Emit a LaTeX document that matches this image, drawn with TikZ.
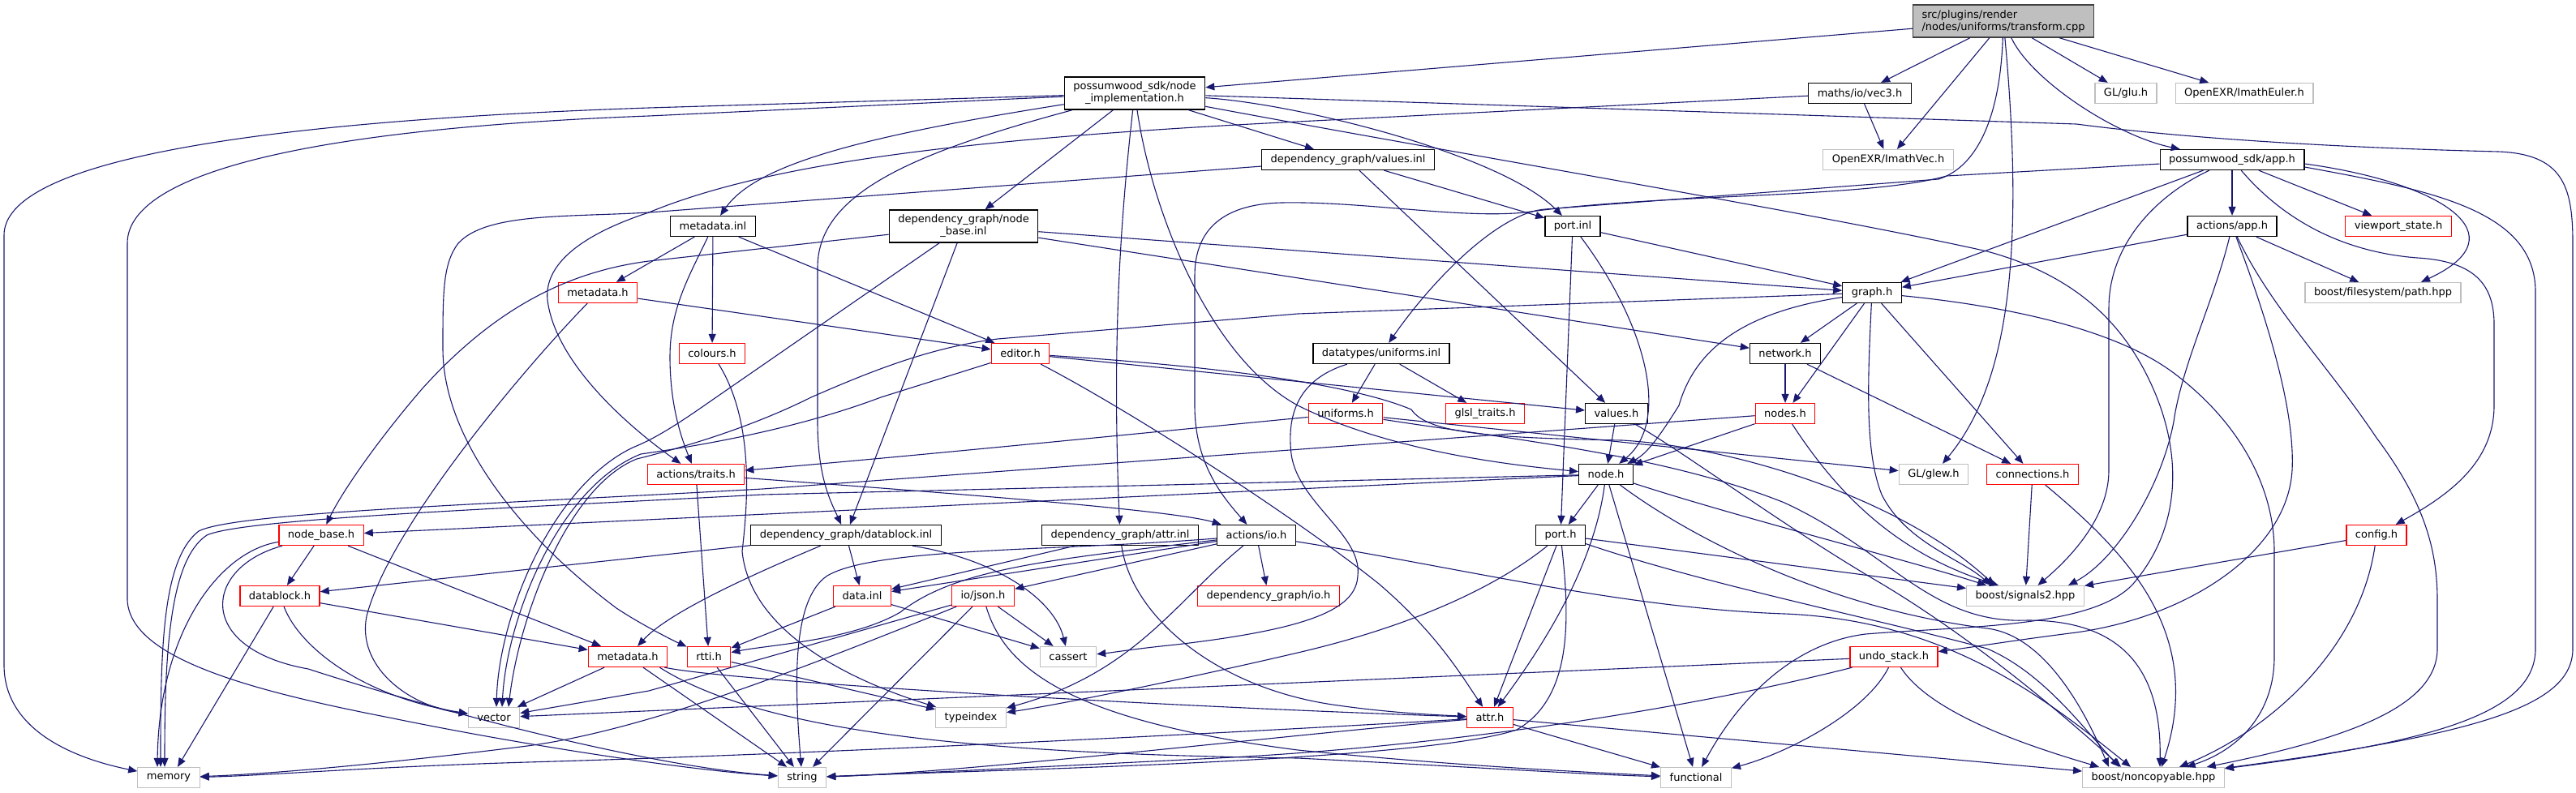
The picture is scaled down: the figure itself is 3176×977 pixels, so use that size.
\documentclass[tikz,border=0pt]{standalone}
\usepackage{fontspec}
\newfontfamily\hfont{DejaVu Sans}
\usetikzlibrary{arrows.meta}
\definecolor{edgeblue}{RGB}{25,25,112}
\definecolor{boxred}{RGB}{255,0,0}
\definecolor{extgray}{RGB}{191,191,191}
\definecolor{rootline}{RGB}{64,64,64}

\begin{document}
\begin{tikzpicture}[
  x=1pt,y=-1pt,
  incbox/.style={draw=black,line width=1.3pt,fill=white,inner xsep=11pt,inner ysep=3pt,
    minimum height=25pt,align=center,font=\hfont\fontsize{13}{15}\selectfont},
  redbox/.style={incbox,draw=boxred},
  extbox/.style={incbox,draw=extgray},
  rootbox/.style={incbox,draw=rootline,fill=extgray,align=left,minimum height=40pt},
  incl/.style={draw=edgeblue,line width=1.1pt,-{Triangle[length=11pt,width=9pt]}}
]
\fill[white] (0,0) rectangle (3176,977);
\useasboundingbox (0,0) rectangle (3176,977);

% files
\node[rootbox] (root) at (2470,26) {src/plugins/render\\/nodes/uniforms/transform.cpp};
\node[incbox,minimum height=40pt] (nimpl) at (1399,115) {possumwood\_sdk/node\\\_implementation.h};
\node[incbox] (vecth) at (2293,115) {maths/io/vec3.h};
\node[extbox] (glu) at (2621,115) {GL/glu.h};
\node[extbox] (euler) at (2767,115) {OpenEXR/ImathEuler.h};
\node[incbox] (valinl) at (1662,197) {dependency\_graph/values.inl};
\node[extbox] (imvec) at (2328,197) {OpenEXR/ImathVec.h};
\node[incbox] (sdkapp) at (2752,197) {possumwood\_sdk/app.h};
\node[incbox] (mdinl) at (879,279) {metadata.inl};
\node[incbox,minimum height=40pt] (nbinl) at (1188,279) {dependency\_graph/node\\\_base.inl};
\node[incbox] (portinl) at (1939,279) {port.inl};
\node[incbox] (actapp) at (2752,279) {actions/app.h};
\node[redbox] (vpstate) at (2957,279) {viewport\_state.h};
\node[redbox] (mdh) at (737,361) {metadata.h};
\node[incbox] (graphh) at (2308,361) {graph.h};
\node[extbox] (fspath) at (2938,361) {boost/filesystem/path.hpp};
\node[redbox] (colours) at (878,436) {colours.h};
\node[redbox] (editor) at (1258,436) {editor.h};
\node[incbox] (uniinl) at (1703,436) {datatypes/uniforms.inl};
\node[incbox] (network) at (2201,436) {network.h};
\node[redbox] (unih) at (1659,510) {uniforms.h};
\node[redbox] (glsl) at (1831,510) {glsl\_traits.h};
\node[incbox] (valh) at (1993,510) {values.h};
\node[redbox] (nodesh) at (2201,510) {nodes.h};
\node[redbox] (traits) at (858,585) {actions/traits.h};
\node[incbox] (nodeh) at (1980,585) {node.h};
\node[extbox] (glew) at (2384,585) {GL/glew.h};
\node[redbox] (conn) at (2506,585) {connections.h};
\node[redbox] (nbh) at (396,660) {node\_base.h};
\node[incbox] (dbinl) at (1043,660) {dependency\_graph/datablock.inl};
\node[incbox] (attrinl) at (1381,660) {dependency\_graph/attr.inl};
\node[incbox] (actio) at (1549,660) {actions/io.h};
\node[incbox] (porth) at (1924,660) {port.h};
\node[redbox] (config) at (2930,660) {config.h};
\node[redbox] (dbh) at (345,735) {datablock.h};
\node[redbox] (datainl) at (1063,735) {data.inl};
\node[redbox] (json) at (1212,735) {io/json.h};
\node[redbox] (dgio) at (1564,735) {dependency\_graph/io.h};
\node[extbox] (sig) at (2497,735) {boost/signals2.hpp};
\node[redbox] (mdh2) at (774,810) {metadata.h};
\node[redbox] (rtti) at (874,810) {rtti.h};
\node[extbox] (cassert) at (1317,810) {cassert};
\node[redbox] (undo) at (2335,810) {undo\_stack.h};
\node[extbox] (vector) at (609,885) {vector};
\node[extbox] (typeidx) at (1197,885) {typeindex};
\node[redbox] (attrh) at (1837,885) {attr.h};
\node[extbox] (memory) at (208,959) {memory};
\node[extbox] (string) at (989,959) {string};
\node[extbox] (functional) at (2091,959) {functional};
\node[extbox] (noncopy) at (2655,959) {boost/noncopyable.hpp};

% transform.cpp
\draw[incl] (root) -- (nimpl);
\draw[incl] (root) -- (vecth);
\draw[incl] (root) -- (imvec);
\draw[incl] (root) -- (glu);
\draw[incl] (root) -- (euler);
\draw[incl] (root) .. controls (2505,100) and (2610,168) .. (sdkapp);
\draw[incl] (root) .. controls (2495,300) and (2480,470) .. (glew);
\draw[incl] (root) .. controls (2466,140) and (2440,205) .. (2390,221) -- (1905,258) .. controls (1850,262) and (1770,340) .. (uniinl);

% node_implementation.h
\draw[incl] (nimpl) -- (800,133) .. controls (300,150) and (5,200) .. (5,290) -- (5,820) .. controls (5,900) and (90,935) .. (memory);
\draw[incl] (nimpl) -- (800,143) .. controls (350,160) and (157,220) .. (157,300) -- (157,740) .. controls (160,810) and (300,850) .. (480,885) .. controls (650,920) and (850,950) .. (string);
\draw[incl] (nimpl) .. controls (1050,170) and (930,205) .. (mdinl);
\draw[incl] (nimpl) .. controls (1120,190) and (1008,240) .. (1008,330) -- (1008,520) .. controls (1008,590) and (1025,620) .. (dbinl);
\draw[incl] (nimpl) -- (nbinl);
\draw[incl] (nimpl) .. controls (1378,300) and (1372,450) .. (attrinl);
\draw[incl] (nimpl) .. controls (1420,260) and (1490,440) .. (1600,500) .. controls (1720,560) and (1880,575) .. (nodeh);
\draw[incl] (nimpl) -- (valinl);
\draw[incl] (nimpl) .. controls (1600,128) and (1850,190) .. (portinl);
\draw[incl] (nimpl) -- (2560,153) .. controls (2750,178) and (3000,185) .. (3080,187) .. controls (3160,190) and (3172,230) .. (3172,300) -- (3172,800) .. controls (3172,870) and (3060,905) .. (noncopy);
\draw[incl] (nimpl) .. controls (1800,190) and (2250,265) .. (2450,310) .. controls (2560,340) and (2620,400) .. (2655,480) .. controls (2690,560) and (2690,650) .. (2630,720) .. controls (2580,775) and (2420,772) .. (2300,782) .. controls (2220,792) and (2150,850) .. (functional);

% vec3.h, values.inl
\draw[incl] (vecth) -- (imvec);
\draw[incl] (vecth) -- (1600,150) .. controls (1200,170) and (950,200) .. (800,262) .. controls (730,285) and (670,320) .. (675,370) .. controls (685,450) and (780,530) .. (traits);
\draw[incl] (valinl) -- (portinl);
\draw[incl] (valinl) -- (valh);
\draw[incl] (valinl) -- (800,262) .. controls (700,268) and (600,262) .. (565,300) .. controls (546,325) and (546,360) .. (546,430) .. controls (546,540) and (640,660) .. (760,750) .. controls (790,770) and (830,790) .. (rtti);

% app.h
\draw[incl] (sdkapp) -- (actapp);
\draw[incl] (sdkapp) -- (vpstate);
\draw[incl] (sdkapp) -- (graphh);
\draw[incl] ([yshift=-5pt]sdkapp.east) .. controls (3010,225) and (3110,290) .. ([xshift=47pt]fspath.north);
\draw[incl] ([yshift=-9pt]sdkapp.east) .. controls (3000,235) and (3126,260) .. (3126,360) -- (3126,800) .. controls (3126,880) and (3000,915) .. (noncopy);
\draw[incl] (sdkapp) .. controls (2810,265) and (2880,310) .. (2980,318) .. controls (3050,322) and (3075,350) .. (3075,400) -- (3075,500) .. controls (3075,570) and (3020,610) .. (config);
\draw[incl] (sdkapp) .. controls (2660,240) and (2600,300) .. (2600,380) -- (2600,580) .. controls (2600,640) and (2550,690) .. (sig);
\draw[incl] (sdkapp) -- (2400,217) .. controls (2300,245) and (2050,238) .. (1880,262) .. controls (1800,270) and (1680,248) .. (1580,250) .. controls (1500,252) and (1473,290) .. (1473,340) -- (1473,500) .. controls (1473,570) and (1505,610) .. (actio);

% metadata.inl, metadata.h
\draw[incl] (mdinl) -- (mdh);
\draw[incl] (mdinl) .. controls (850,340) and (826,380) .. (826,440) .. controls (826,500) and (840,540) .. (traits);
\draw[incl] (mdinl) -- (colours);
\draw[incl] (mdinl) -- (editor);
\draw[incl] (mdh) -- (editor);
\draw[incl] (mdh) .. controls (650,450) and (480,650) .. (452,760) .. controls (440,820) and (500,870) .. (vector);

% node_base.inl
\draw[incl] (nbinl) -- (800,322) .. controls (700,335) and (610,380) .. (520,480) .. controls (460,550) and (420,610) .. (nbh);
\draw[incl] (nbinl) -- (880,492) .. controls (840,520) and (810,540) .. (780,552) .. controls (680,600) and (615,760) .. ([xshift=3pt]vector.north);
\draw[incl] (nbinl) -- (dbinl);
\draw[incl] (nbinl) -- (graphh);
\draw[incl] (nbinl) -- (network);

% port.inl, actions/app.h
\draw[incl] (portinl) -- (graphh);
\draw[incl] (portinl) -- (porth);
\draw[incl] (portinl) .. controls (2030,400) and (2060,520) .. (nodeh);
\draw[incl] (actapp) -- (graphh);
\draw[incl] (actapp) -- (fspath);
\draw[incl] (actapp) .. controls (2790,380) and (2830,500) .. (2826,580) .. controls (2820,680) and (2700,760) .. (2560,780) .. controls (2480,790) and (2420,800) .. (undo);
\draw[incl] (actapp) .. controls (2730,370) and (2690,450) .. (2680,520) .. controls (2665,600) and (2610,690) .. ([xshift=-20pt]sig.north east);
\draw[incl] (actapp) .. controls (2800,380) and (2870,450) .. (2930,540) .. controls (2990,620) and (3005,680) .. (3005,740) -- (3005,800) .. controls (3005,870) and (2900,910) .. (noncopy);

% graph.h, network.h
\draw[incl] (graphh) -- (1600,387) -- (1230,418) .. controls (1150,428) and (1080,455) .. (1000,490) .. controls (930,525) and (850,550) .. (785,566) .. controls (700,600) and (640,760) .. ([xshift=18pt]vector.north);
\draw[incl] (graphh) .. controls (2150,385) and (2090,430) .. (2070,500) .. controls (2045,540) and (2030,560) .. (nodeh);
\draw[incl] (graphh) -- (network);
\draw[incl] (graphh) -- (nodesh);
\draw[incl] (graphh) .. controls (2302,480) and (2300,560) .. (2320,610) .. controls (2350,670) and (2420,690) .. ([xshift=-43pt]sig.north);
\draw[incl] (graphh) -- (conn);
\draw[incl] (graphh) .. controls (2450,375) and (2600,400) .. (2680,460) .. controls (2760,520) and (2804,600) .. (2804,680) -- (2804,810) .. controls (2804,880) and (2760,925) .. (noncopy);
\draw[incl] (network) -- (nodesh);
\draw[incl] (network) -- (conn);

% uniforms.inl, uniforms.h
\draw[incl] (uniinl) -- (unih);
\draw[incl] (uniinl) -- (glsl);
\draw[incl] (uniinl) .. controls (1610,465) and (1585,500) .. (1592,560) .. controls (1600,620) and (1680,660) .. (1674,710) .. controls (1672,750) and (1620,775) .. (1450,795) .. controls (1400,800) and (1370,805) .. (cassert);
\draw[incl] (unih) .. controls (1450,530) and (1100,565) .. (traits);
\draw[incl] (unih) -- (glew);
\draw[incl] (unih) .. controls (1850,540) and (2050,560) .. (2200,620) .. controls (2330,680) and (2380,770) .. (2500,765) .. controls (2620,765) and (2665,830) .. ([xshift=8pt]noncopy.north);

% values.h, nodes.h
\draw[incl] (valh) -- (nodeh);
\draw[incl] (valh) .. controls (2080,560) and (2200,650) .. (2320,720) .. controls (2420,780) and (2520,860) .. ([xshift=-40pt]noncopy.north);
\draw[incl] (nodesh) -- (nodeh);
\draw[incl] (nodesh) -- (940,603) .. controls (600,622) and (290,632) .. (245,655) .. controls (200,690) and (198,800) .. ([xshift=-10pt]memory.north);
\draw[incl] (nodesh) .. controls (2260,600) and (2330,680) .. ([xshift=-33pt]sig.north);

% actions/traits.h, node.h
\draw[incl] (traits) -- (rtti);
\draw[incl] (traits) .. controls (1200,610) and (1450,630) .. (actio);
\draw[incl] (nodeh) -- (porth);
\draw[incl] (nodeh) .. controls (1965,700) and (1900,800) .. (attrh);
\draw[incl] (nodeh) -- (functional);
\draw[incl] (nodeh) .. controls (2080,660) and (2250,750) .. (2450,775) .. controls (2530,785) and (2580,900) .. ([xshift=-55pt]noncopy.north);
\draw[incl] (nodeh) .. controls (2150,640) and (2350,690) .. ([xshift=-48pt]sig.north);
\draw[incl] (nodeh) -- (nbh);
\draw[incl] (nodeh) -- (940,610) .. controls (600,628) and (300,640) .. (255,660) .. controls (210,690) and (203,800) .. ([xshift=-5pt]memory.north);

% node_base.h
\draw[incl] (nbh) .. controls (270,680) and (196,780) .. ([xshift=-14pt]memory.north);
\draw[incl] (nbh) -- (dbh);
\draw[incl] (nbh) -- (mdh2);
\draw[incl] (nbh) .. controls (250,700) and (240,800) .. (380,825) .. controls (550,880) and (800,945) .. (string);

% datablock.inl, attr.inl
\draw[incl] (dbinl) -- (datainl);
\draw[incl] (dbinl) .. controls (1230,690) and (1300,740) .. (cassert);
\draw[incl] (dbinl) .. controls (900,720) and (820,760) .. (mdh2);
\draw[incl] (dbinl) -- (dbh);
\draw[incl] (attrinl) -- (datainl);
\draw[incl] (attrinl) .. controls (1395,760) and (1500,850) .. (1650,870) .. controls (1720,880) and (1780,882) .. (attrh);

% actions/io.h
\draw[incl] (actio) -- (datainl);
\draw[incl] (actio) -- (json);
\draw[incl] (actio) -- (dgio);
\draw[incl] (actio) .. controls (1300,690) and (1180,700) .. (1110,755) .. controls (1050,790) and (950,795) .. (rtti);
\draw[incl] (actio) .. controls (1300,680) and (1080,675) .. (1020,710) .. controls (975,740) and (980,850) .. (string);
\draw[incl] (actio) .. controls (1450,740) and (1400,830) .. (typeidx);
\draw[incl] (actio) .. controls (1800,700) and (2000,750) .. (2200,757) .. controls (2400,765) and (2520,860) .. ([xshift=-28pt]noncopy.north);

% port.h
\draw[incl] (porth) -- (attrh);
\draw[incl] (porth) .. controls (1850,720) and (1750,770) .. (1600,805) .. controls (1450,840) and (1300,870) .. (typeidx);
\draw[incl] (porth) -- (sig);
\draw[incl] (porth) .. controls (2100,720) and (2300,760) .. (2450,800) .. controls (2520,830) and (2570,900) .. ([xshift=-42pt]noncopy.north);
\draw[incl] (porth) .. controls (1935,760) and (1940,860) .. (1870,900) .. controls (1750,940) and (1200,950) .. (string);

% datablock.h, data.inl, io/json.h
\draw[incl] (dbh) -- ([xshift=11pt]memory.north);
\draw[incl] (dbh) .. controls (370,800) and (450,860) .. (vector);
\draw[incl] (dbh) -- (mdh2);
\draw[incl] (datainl) -- (rtti);
\draw[incl] (datainl) -- (cassert);
\draw[incl] (json) -- (800,852) -- (vector);
\draw[incl] (json) .. controls (1000,820) and (800,900) .. (650,920) .. controls (450,945) and (320,955) .. (memory);
\draw[incl] (json) -- (string);
\draw[incl] (json) -- (cassert);
\draw[incl] (json) .. controls (1240,830) and (1330,890) .. (1600,925) .. controls (1800,945) and (1950,952) .. (functional);

% connections.h, config.h
\draw[incl] (conn) -- (sig);
\draw[incl] (conn) .. controls (2620,680) and (2720,780) .. ([xshift=10pt]noncopy.north);
\draw[incl] (config) -- (sig);
\draw[incl] (config) .. controls (2910,800) and (2800,900) .. ([xshift=32pt]noncopy.north);

% metadata.h, rtti.h
\draw[incl] (mdh2) -- (vector);
\draw[incl] (mdh2) -- (string);
\draw[incl] ([xshift=-4pt]mdh2.south east) .. controls (900,840) and (1400,870) .. (attrh);
\draw[incl] ([xshift=-10pt]mdh2.south east) .. controls (950,910) and (1250,930) .. (1600,935) .. controls (1800,945) and (1950,955) .. (functional);
\draw[incl] (rtti) -- (string);
\draw[incl] (rtti) -- (typeidx);

% undo_stack.h, attr.h
\draw[incl] (undo) -- (vector);
\draw[incl] (undo) .. controls (2300,880) and (2200,930) .. (functional);
\draw[incl] (undo) .. controls (2100,870) and (1800,920) .. (1500,935) .. controls (1300,945) and (1100,955) .. (string);
\draw[incl] (undo) .. controls (2380,880) and (2500,920) .. ([xshift=-67pt]noncopy.north);
\draw[incl] (attrh) .. controls (1500,905) and (1000,930) .. (650,940) .. controls (450,946) and (320,957) .. (memory);
\draw[incl] (attrh) .. controls (1600,905) and (1200,952) .. (string);
\draw[incl] (attrh) -- (functional);
\draw[incl] (attrh) -- (noncopy);

% editor.h, colours.h
\draw[incl] (editor) -- (valh);
\draw[incl] (editor) .. controls (1550,455) and (1680,480) .. (1740,505) .. controls (1760,535) and (1840,540) .. (2000,543) .. controls (2150,552) and (2350,620) .. ([xshift=-38pt]sig.north);
\draw[incl] (editor) .. controls (1400,510) and (1600,640) .. (1700,720) .. controls (1770,780) and (1800,830) .. (attrh);
\draw[incl] (editor) -- (1086,490) .. controls (980,530) and (860,550) .. (790,560) .. controls (690,600) and (625,760) .. ([xshift=10pt]vector.north);
\draw[incl] (colours) .. controls (930,520) and (922,620) .. (915,680) .. controls (925,780) and (1050,840) .. (typeidx);
\end{tikzpicture}
\end{document}
